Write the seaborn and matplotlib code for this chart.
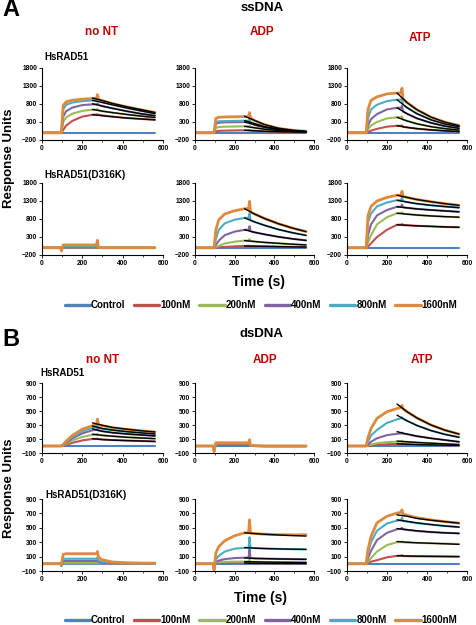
import numpy as np
import pandas as pd
import matplotlib
matplotlib.use("Agg")
import matplotlib.pyplot as plt
import seaborn as sns
from matplotlib.lines import Line2D

sns.set_style("ticks")
plt.rcParams['font.family'] = ['Liberation Sans', 'DejaVu Sans']
plt.rcParams['font.weight'] = 'bold'
plt.rcParams['text.color'] = 'black'
plt.rcParams['xtick.color'] = 'black'
plt.rcParams['ytick.color'] = 'black'
plt.rcParams['axes.edgecolor'] = 'black'

# ---------------- data ----------------
series_labels = ["Control", "100nM", "200nM", "400nM", "800nM", "1600nM"]
series_colors = ["#4F81BD", "#C0504D", "#9BBB59", "#8064A2", "#4BACC6", "#DE8A3C"]
time_s = [0, 92, 96, 105, 120, 150, 200, 250, 270, 275, 280, 300, 350, 420, 490, 560]
fit_time_s = [250, 300, 350, 420, 490, 560]
column_titles = ["no NT", "ADP", "ATP"]
row_labels = ["HsRAD51", "HsRAD51(D316K)"]
ss_yticks = [-200, 300, 800, 1300, 1800]
ds_yticks = [-100, 100, 300, 500, 700, 900]
x_ticks = [0, 200, 400, 600]

# ssDNA, HsRAD51
ss_wt_nont = [
    [0, 0, 0, 0, 0, 0, 0, 0, 0, 0, 0, 0, 0, 0, 0, 0],
    [0, 0, 0, 80, 200, 330, 450, 500, 505, 515, 495, 480, 450, 410, 385, 360],
    [0, 0, 0, 300, 430, 530, 610, 640, 645, 660, 625, 600, 560, 510, 465, 425],
    [0, 0, 0, 450, 600, 700, 770, 790, 795, 810, 775, 740, 680, 600, 530, 475],
    [0, 0, 0, 650, 780, 840, 880, 900, 905, 930, 885, 850, 780, 690, 610, 535],
    [0, 0, 0, 760, 860, 905, 935, 950, 955, 1060, 930, 890, 810, 720, 640, 565],
]
ss_wt_nont_fit = [
    [505, 475, 445, 410, 385, 360],
    [650, 600, 560, 510, 465, 425],
    [805, 740, 680, 600, 530, 475],
    [900, 840, 775, 690, 610, 535],
    [965, 895, 815, 725, 645, 565],
]
ss_wt_adp = [
    [0, 0, 0, 0, 0, 0, 0, 0, 0, 0, 0, 0, 0, 0, 0, 0],
    [0, 0, 0, 40, 55, 60, 65, 70, 70, 80, 62, 55, 42, 30, 22, 15],
    [0, 0, 0, 130, 160, 170, 175, 180, 180, 200, 160, 140, 100, 62, 40, 25],
    [0, 0, 0, 250, 280, 290, 295, 300, 300, 340, 270, 220, 150, 90, 55, 32],
    [0, 0, 0, 300, 320, 325, 330, 335, 335, 380, 300, 250, 170, 100, 60, 35],
    [0, 0, 0, 400, 430, 440, 445, 450, 450, 560, 420, 340, 225, 125, 72, 40],
]
ss_wt_adp_fit = [
    [70, 55, 42, 30, 22, 15],
    [180, 140, 100, 62, 40, 25],
    [300, 225, 155, 92, 56, 32],
    [340, 255, 172, 102, 62, 36],
    [460, 345, 230, 128, 74, 42],
]
ss_wt_atp = [
    [0, 0, 0, 0, 0, 0, 0, 0, 0, 0, 0, 0, 0, 0, 0, 0],
    [0, 0, 0, 25, 60, 110, 170, 195, 195, 205, 165, 150, 115, 80, 55, 35],
    [0, 0, 0, 100, 200, 300, 400, 430, 430, 455, 365, 330, 250, 170, 115, 75],
    [0, 0, 0, 200, 380, 520, 650, 695, 695, 745, 590, 530, 400, 275, 185, 125],
    [0, 0, 0, 400, 650, 780, 880, 920, 920, 970, 780, 700, 530, 360, 245, 170],
    [0, 0, 0, 650, 900, 1000, 1080, 1105, 1105, 1240, 940, 840, 640, 435, 295, 200],
]
ss_wt_atp_fit = [
    [195, 150, 115, 80, 55, 35],
    [430, 330, 250, 170, 115, 75],
    [695, 530, 400, 275, 185, 125],
    [920, 700, 530, 360, 245, 170],
    [1105, 840, 640, 435, 295, 200],
]
# ssDNA, HsRAD51(D316K)
ss_mut_nont = [
    [0, 0, -30, 0, 0, 0, 0, 0, 0, 0, 0, 0, 0, 0, 0, 0],
    [0, 0, -40, 10, 10, 10, 10, 10, 10, 20, 0, 0, 0, 0, 0, 0],
    [0, 0, -50, 20, 20, 20, 20, 20, 20, 40, 0, 0, 0, 0, 0, 0],
    [0, 0, -60, 30, 30, 30, 30, 30, 30, 60, 5, 0, 0, 0, 0, 0],
    [0, 0, -70, 50, 50, 50, 50, 50, 50, 100, 5, 0, 0, 0, 0, 0],
    [0, 0, -90, 80, 80, 80, 80, 80, 80, 210, 10, 0, 0, 0, 0, 0],
]
ss_mut_adp = [
    [0, 0, 0, 0, 0, 0, 0, 0, 0, 0, 0, 0, 0, 0, 0, 0],
    [0, 0, 0, 5, 15, 25, 40, 50, 50, 60, 46, 45, 40, 32, 25, 20],
    [0, 0, 0, 20, 50, 120, 170, 200, 200, 240, 185, 175, 150, 125, 100, 80],
    [0, 0, 0, 80, 200, 350, 450, 500, 500, 600, 460, 430, 375, 305, 250, 205],
    [0, 0, 0, 250, 500, 680, 780, 830, 835, 960, 765, 720, 625, 510, 420, 345],
    [0, 0, 0, 500, 780, 940, 1030, 1085, 1090, 1290, 995, 940, 815, 670, 550, 450],
]
ss_mut_adp_fit = [
    [50, 45, 40, 32, 25, 20],
    [200, 175, 150, 125, 100, 80],
    [500, 430, 375, 305, 250, 205],
    [830, 720, 625, 510, 420, 345],
    [1085, 940, 815, 670, 550, 450],
]
ss_mut_atp = [
    [0, 0, 0, 0, 0, 0, 0, 0, 0, 0, 0, 0, 0, 0, 0, 0],
    [0, 0, 0, 40, 120, 300, 500, 640, 640, 660, 630, 625, 610, 595, 580, 570],
    [0, 0, 0, 150, 350, 650, 850, 960, 960, 990, 950, 935, 910, 885, 865, 850],
    [0, 0, 0, 350, 650, 900, 1050, 1140, 1140, 1200, 1125, 1110, 1080, 1050, 1025, 1000],
    [0, 0, 0, 700, 950, 1150, 1260, 1320, 1320, 1400, 1300, 1270, 1225, 1180, 1145, 1115],
    [0, 0, 0, 900, 1150, 1300, 1400, 1460, 1465, 1570, 1430, 1400, 1340, 1280, 1225, 1180],
]
ss_mut_atp_fit = [
    [640, 625, 610, 595, 580, 570],
    [960, 935, 910, 885, 865, 850],
    [1140, 1110, 1080, 1050, 1025, 1000],
    [1320, 1270, 1225, 1180, 1145, 1115],
    [1460, 1400, 1340, 1280, 1225, 1180],
]
# dsDNA, HsRAD51
ds_wt_nont = [
    [0, 0, 0, 0, 0, 0, 0, 0, 0, 0, 0, 0, 0, 0, 0, 0],
    [0, 0, 0, 0, 15, 45, 80, 100, 100, 105, 98, 92, 85, 78, 72, 65],
    [0, 0, 0, 5, 30, 80, 130, 160, 165, 175, 158, 152, 140, 125, 115, 105],
    [0, 0, 0, 10, 45, 110, 180, 225, 232, 245, 220, 210, 190, 172, 158, 145],
    [0, 0, 0, 15, 60, 130, 210, 260, 270, 285, 255, 245, 225, 205, 188, 172],
    [0, 0, 0, 20, 70, 150, 240, 290, 305, 385, 305, 290, 262, 238, 218, 200],
]
ds_wt_nont_fit = [
    [105, 92, 84, 77, 71, 65],
    [168, 152, 140, 125, 115, 105],
    [245, 210, 190, 172, 158, 145],
    [285, 250, 228, 205, 188, 172],
    [330, 295, 265, 240, 218, 200],
]
ds_wt_adp = [
    [0, 0, -10, 0, 0, 0, 0, 0, 0, 0, 0, 0, 0, 0, 0, 0],
    [0, 0, -30, 20, 20, 20, 20, 20, 20, 30, 5, 0, 0, 0, 0, 0],
    [0, 0, -40, 30, 30, 30, 30, 30, 30, 45, 5, 0, 0, 0, 0, 0],
    [0, 0, -50, 30, 30, 30, 30, 30, 30, 50, 5, 0, -5, -5, -5, -5],
    [0, 0, -60, 50, 50, 50, 50, 50, 50, 70, 10, 5, 0, 0, 0, 0],
    [0, 0, -80, 40, 40, 40, 40, 40, 40, 90, 10, 5, 0, 0, 0, 0],
]
ds_wt_atp = [
    [0, 0, 0, 0, 0, 0, 0, 0, 0, 0, 0, 0, 0, 0, 0, 0],
    [0, 0, 0, 3, 8, 15, 25, 30, 30, 35, 27, 25, 20, 15, 12, 10],
    [0, 0, 0, 8, 20, 40, 55, 62, 65, 75, 62, 60, 50, 40, 30, 20],
    [0, 0, 0, 20, 60, 110, 155, 175, 178, 190, 177, 170, 140, 110, 85, 60],
    [0, 0, 0, 60, 150, 230, 330, 380, 395, 410, 390, 360, 293, 220, 166, 125],
    [0, 0, 0, 120, 250, 395, 490, 535, 550, 580, 530, 490, 400, 300, 226, 170],
]
ds_wt_atp_fit = [
    [32, 25, 20, 15, 12, 10],
    [70, 60, 50, 40, 30, 20],
    [205, 170, 140, 110, 85, 60],
    [440, 360, 293, 220, 166, 125],
    [600, 490, 400, 300, 226, 170],
]
# dsDNA, HsRAD51(D316K)
ds_mut_nont = [
    [0, 0, -10, 0, 0, 0, 0, 0, 0, 0, 0, 0, 0, 0, 0, 0],
    [0, 0, -15, 10, 10, 10, 10, 10, 10, 15, 10, 8, 5, 5, 5, 5],
    [0, 0, -20, 15, 15, 15, 15, 15, 15, 20, 12, 10, 8, 5, 5, 5],
    [0, 0, -25, 40, 40, 40, 40, 40, 40, 50, 25, 15, 10, 8, 5, 5],
    [0, 0, -35, 70, 70, 70, 70, 70, 70, 90, 45, 25, 15, 10, 8, 5],
    [0, 0, -10, 130, 140, 140, 140, 140, 140, 170, 90, 55, 25, 15, 10, 10],
]
ds_mut_adp = [
    [0, 0, 0, 0, 0, 0, 0, 0, 0, 0, 0, 0, 0, 0, 0, 0],
    [0, 0, -40, 5, 8, 10, 10, 10, 10, 20, 8, 7, 6, 5, 5, 5],
    [0, 0, -60, 15, 22, 27, 30, 30, 32, 60, 28, 27, 25, 22, 20, 18],
    [0, 0, -70, 25, 45, 65, 80, 85, 85, 200, 80, 75, 72, 68, 65, 62],
    [0, 0, -80, 60, 110, 170, 210, 222, 222, 370, 220, 218, 212, 207, 203, 200],
    [0, 0, -90, 150, 240, 320, 390, 430, 432, 610, 425, 420, 412, 405, 402, 405],
]
ds_mut_adp_fit = [
    [10, 8, 7, 6, 5, 5],
    [30, 28, 25, 22, 20, 18],
    [82, 75, 72, 68, 65, 62],
    [225, 218, 212, 207, 203, 200],
    [430, 420, 410, 400, 392, 385],
]
ds_mut_atp = [
    [0, 0, 0, 0, 0, 0, 0, 0, 0, 0, 0, 0, 0, 0, 0, 0],
    [0, 0, 0, 15, 30, 50, 90, 110, 112, 120, 108, 106, 104, 102, 101, 100],
    [0, 0, 0, 30, 80, 170, 260, 300, 300, 310, 298, 295, 290, 285, 280, 275],
    [0, 0, 0, 80, 180, 330, 430, 480, 485, 500, 478, 470, 455, 440, 430, 425],
    [0, 0, 0, 150, 300, 460, 560, 600, 605, 640, 595, 585, 565, 545, 525, 510],
    [0, 0, 0, 200, 380, 570, 660, 705, 715, 750, 690, 675, 640, 610, 585, 565],
]
ds_mut_atp_fit = [
    [112, 108, 106, 104, 102, 100],
    [310, 300, 292, 285, 278, 270],
    [490, 475, 458, 442, 430, 420],
    [610, 590, 568, 545, 525, 510],
    [680, 660, 630, 605, 585, 565],
]

# ---------------- layout ----------------
W, H = 477, 625
fig = plt.figure(figsize=(W / 100, H / 100), dpi=100)

def px_axes(x0, x1, y0, y1):
    return fig.add_axes([x0 / W, 1 - y1 / H, (x1 - x0) / W, (y1 - y0) / H])

cols_px = [(42, 163), (195, 314), (347, 467)]
rows_px = {"A": [(68, 140), (183, 255)], "B": [(383, 453), (499, 571)]}

panels = {
    "A": [[(ss_wt_nont, ss_wt_nont_fit), (ss_wt_adp, ss_wt_adp_fit), (ss_wt_atp, ss_wt_atp_fit)],
          [(ss_mut_nont, None), (ss_mut_adp, ss_mut_adp_fit), (ss_mut_atp, ss_mut_atp_fit)]],
    "B": [[(ds_wt_nont, ds_wt_nont_fit), (ds_wt_adp, None), (ds_wt_atp, ds_wt_atp_fit)],
          [(ds_mut_nont, None), (ds_mut_adp, ds_mut_adp_fit), (ds_mut_atp, ds_mut_atp_fit)]],
}

for sec in ["A", "B"]:
    yticks = ss_yticks if sec == "A" else ds_yticks
    for r in range(2):
        for c in range(3):
            curves, fits = panels[sec][r][c]
            ax = px_axes(cols_px[c][0], cols_px[c][1], rows_px[sec][r][0], rows_px[sec][r][1])
            for i, vals in enumerate(curves):
                lw = 2.0 if i == 5 else 1.5
                sns.lineplot(x=time_s, y=vals, color=series_colors[i], lw=lw, ax=ax,
                             sort=False, estimator=None, zorder=2 + i * 0.1)
            if fits is not None:
                for vals in fits:
                    sns.lineplot(x=fit_time_s, y=vals, color="black", lw=1.0, ax=ax,
                                 sort=False, estimator=None, zorder=3)
            ax.set_xlim(0, 600)
            ax.set_ylim(yticks[0], yticks[-1])
            ax.set_xticks(x_ticks)
            ax.set_xticks([100, 300, 500], minor=True)
            ax.set_yticks(yticks)
            ax.set_xlabel("")
            ax.set_ylabel("")
            ax.tick_params(axis="both", which="major", labelsize=4.8, length=2, width=0.6, pad=1.5,
                           colors="black")
            ax.tick_params(axis="x", which="minor", length=1.5, width=0.5)
            for lab in ax.get_xticklabels() + ax.get_yticklabels():
                lab.set_fontweight("bold")
            for s in ["top", "right"]:
                ax.spines[s].set_visible(False)
            for s in ["left", "bottom"]:
                ax.spines[s].set_linewidth(0.8)
                ax.spines[s].set_color("black")
            ax.set_facecolor("none")

def ftext(x, y, s, **kw):
    fig.text(x / W, 1 - y / H, s, **kw)

red = "#C00000"
# Section A
ftext(2, 10, "A", fontsize=17, fontweight="bold", va="center", ha="left")
ftext(262, 8, "ssDNA", fontsize=9.5, fontweight="bold", ha="center", va="center")
ftext(102, 32, column_titles[0], fontsize=8.5, fontweight="bold", color=red, ha="center", va="center")
ftext(262, 32, column_titles[1], fontsize=8.5, fontweight="bold", color=red, ha="center", va="center")
ftext(420, 38, column_titles[2], fontsize=8.5, fontweight="bold", color=red, ha="center", va="center")
ftext(44, 57, row_labels[0], fontsize=7, fontweight="bold", ha="left", va="center")
ftext(44, 175, row_labels[1], fontsize=7, fontweight="bold", ha="left", va="center")
ftext(9, 158, "Response Units", fontsize=9.5, fontweight="bold", rotation=90, ha="center", va="center")
ftext(259, 282, "Time (s)", fontsize=10, fontweight="bold", ha="center", va="center")
# Section B
ftext(2, 340, "B", fontsize=17, fontweight="bold", va="center", ha="left")
ftext(262, 334, "dsDNA", fontsize=9.5, fontweight="bold", ha="center", va="center")
ftext(103, 360, column_titles[0], fontsize=8.5, fontweight="bold", color=red, ha="center", va="center")
ftext(265, 360, column_titles[1], fontsize=8.5, fontweight="bold", color=red, ha="center", va="center")
ftext(422, 360, column_titles[2], fontsize=8.5, fontweight="bold", color=red, ha="center", va="center")
ftext(40, 373, row_labels[0], fontsize=7, fontweight="bold", ha="left", va="center")
ftext(45, 495, row_labels[1], fontsize=7, fontweight="bold", ha="left", va="center")
ftext(9, 488, "Response Units", fontsize=9.5, fontweight="bold", rotation=90, ha="center", va="center")
ftext(261, 598, "Time (s)", fontsize=10, fontweight="bold", ha="center", va="center")

handles = [Line2D([0], [0], color=c, lw=2.4) for c in series_colors]
for ycen in [305, 620]:
    fig.legend(handles, series_labels, loc="center", bbox_to_anchor=(261 / W, 1 - ycen / H),
               ncol=6, frameon=False, handlelength=2.6, handletextpad=0.1, columnspacing=0.9,
               prop={"size": 7, "weight": "bold"}, borderpad=0, borderaxespad=0)

fig.savefig("out.png", dpi=100)
